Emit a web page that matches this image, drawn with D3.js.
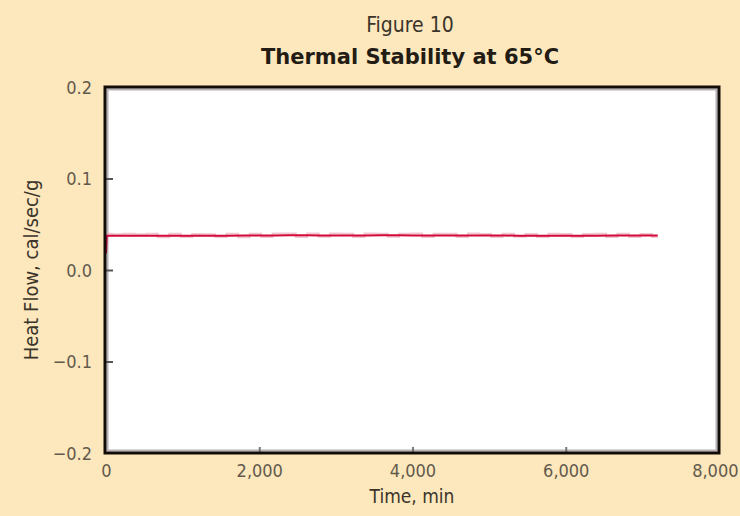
<!DOCTYPE html>
<html><head><meta charset="utf-8">
<script src="https://cdn.jsdelivr.net/npm/d3@7"></script>
<style>
html,body{margin:0;padding:0;background:#fde7bd;}
svg{display:block;}
text{font-family:"DejaVu Sans Condensed","DejaVu Sans",sans-serif;}
</style></head>
<body>
<script>
const figureLabel = "Figure 10";
const chartTitle = "Thermal Stability at 65°C";
const xLabel = "Time, min";
const yLabel = "Heat Flow, cal/sec/g";
const xTicks = [0, 2000, 4000, 6000, 8000];
const yTicks = [-0.2, -0.1, 0.0, 0.1, 0.2];
// main trace (time in min, heat flow cal/sec/g)
const timeMin = [0, 10, 200, 400, 600, 800, 1000, 1200, 1400, 1600, 1800, 2000, 2200, 2400, 2600, 2800, 3000, 3200, 3400, 3600, 3800, 4000, 4200, 4400, 4600, 4800, 5000, 5200, 5400, 5600, 5800, 6000, 6200, 6400, 6600, 6800, 7000, 7200];
const heatFlow = [0.018, 0.0375, 0.0375, 0.0375, 0.0374, 0.0374, 0.0374, 0.0375, 0.0375, 0.0375, 0.0376, 0.0376, 0.0378, 0.0379, 0.0379, 0.0378, 0.0378, 0.0377, 0.0378, 0.0379, 0.0379, 0.0378, 0.0378, 0.0378, 0.0377, 0.0377, 0.0376, 0.0376, 0.0375, 0.0374, 0.0375, 0.0375, 0.0375, 0.0375, 0.0376, 0.0376, 0.0376, 0.0376];
// scatter of the raw signal around the trace
const noiseTime = [0, 150, 300, 450, 600, 750, 900, 1050, 1200, 1350, 1500, 1650, 1800, 1950, 2100, 2250, 2400, 2550, 2700, 2850, 3000, 3150, 3300, 3450, 3600, 3750, 3900, 4050, 4200, 4350, 4500, 4650, 4800, 4950, 5100, 5250, 5400, 5550, 5700, 5850, 6000, 6150, 6300, 6450, 6600, 6750, 6900, 7050, 7200];
const noiseFlow = [0.0395, 0.0392, 0.0397, 0.0390, 0.0395, 0.0358, 0.0396, 0.0360, 0.0394, 0.0392, 0.0361, 0.0395, 0.0359, 0.0396, 0.0362, 0.0398, 0.0399, 0.0362, 0.0398, 0.0364, 0.0399, 0.0396, 0.0361, 0.0398, 0.0397, 0.0363, 0.0396, 0.0399, 0.0362, 0.0397, 0.0396, 0.0360, 0.0398, 0.0394, 0.0361, 0.0396, 0.0364, 0.0393, 0.0360, 0.0395, 0.0394, 0.0361, 0.0393, 0.0395, 0.0362, 0.0396, 0.0360, 0.0394, 0.0362];

const W = 740, H = 516;
const L = 105, R = 719, T = 87, B = 453;
const svg = d3.select("body").append("svg").attr("width", W).attr("height", H);
svg.append("rect").attr("width", W).attr("height", H).attr("fill", "#fde7bd");

const x = d3.scaleLinear().domain([0, 8000]).range([L + 1, R]);
const y = d3.scaleLinear().domain([-0.2, 0.2]).range([B, T]);

// plot area
svg.append("rect").attr("x", L).attr("y", T).attr("width", R - L).attr("height", B - T).attr("fill", "#ffffff");
svg.append("rect").attr("x", L + 2.5).attr("y", T + 2.5).attr("width", R - L - 5).attr("height", B - T - 5)
  .attr("fill", "none").attr("stroke", "#b4b0b4").attr("stroke-width", 2);

// traces
const noise = d3.line().x((d, i) => x(noiseTime[i])).y(d => y(d)).curve(d3.curveStep);
svg.append("path").attr("d", noise(noiseFlow)).attr("fill", "none")
  .attr("stroke", "#eab0c0").attr("stroke-width", 2).attr("opacity", 0.7);
const line = d3.line().x((d, i) => x(timeMin[i])).y(d => y(d));
svg.append("path").attr("d", line(heatFlow)).attr("fill", "none")
  .attr("stroke", "#d3093a").attr("stroke-width", 2);

// axes
const yAxis = d3.axisLeft(y).tickValues(yTicks).tickFormat(d3.format(".1f")).tickSizeInner(-8).tickSizeOuter(0).tickPadding(13);
const gy = svg.append("g").attr("transform", `translate(${L},0)`).call(yAxis);
gy.select(".domain").remove();
gy.selectAll(".tick line").attr("stroke", "#555").attr("stroke-width", 2)
  .filter(d => d === 0.2 || d === -0.2).remove();
gy.selectAll(".tick text").attr("font-size", 18).attr("fill", "#625a4c").attr("dy", "0.35em")
  .style("font-family", "'DejaVu Sans Condensed','DejaVu Sans',sans-serif");

const xAxis = d3.axisBottom(x).tickValues(xTicks).tickFormat(d3.format(",")).tickSizeInner(-6).tickSizeOuter(0).tickPadding(11);
const gx = svg.append("g").attr("transform", `translate(0,${B})`).call(xAxis);
gx.select(".domain").remove();
gx.selectAll(".tick line").attr("stroke", "#777").attr("stroke-width", 2)
  .filter(d => d === 0 || d === 8000).remove();
gx.selectAll(".tick text").attr("font-size", 18).attr("fill", "#625a4c")
  .style("font-family", "'DejaVu Sans Condensed','DejaVu Sans',sans-serif");
gx.selectAll(".tick text").filter(d => d === 8000).attr("text-anchor", "end").attr("x", 19);

// frame
svg.append("rect").attr("x", L).attr("y", T).attr("width", R - L).attr("height", B - T)
  .attr("fill", "none").attr("stroke", "#120c08").attr("stroke-width", 3);

// titles
svg.append("text").attr("x", 410).attr("y", 32).attr("text-anchor", "middle")
  .attr("font-size", 21).attr("fill", "#3a342a").text(figureLabel);
svg.append("text").attr("x", 410).attr("y", 64).attr("text-anchor", "middle")
  .style("font-family", "'DejaVu Sans',sans-serif")
  .attr("font-size", 21).attr("font-weight", "bold").attr("fill", "#231c14").text(chartTitle);
svg.append("text").attr("x", 412).attr("y", 503).attr("text-anchor", "middle")
  .attr("font-size", 19).attr("fill", "#3a342a").text(xLabel);
svg.append("text").attr("transform", "translate(38,270) rotate(-90)").attr("text-anchor", "middle")
  .attr("font-size", 20).attr("fill", "#3a342a").text(yLabel);
</script>
</body></html>
